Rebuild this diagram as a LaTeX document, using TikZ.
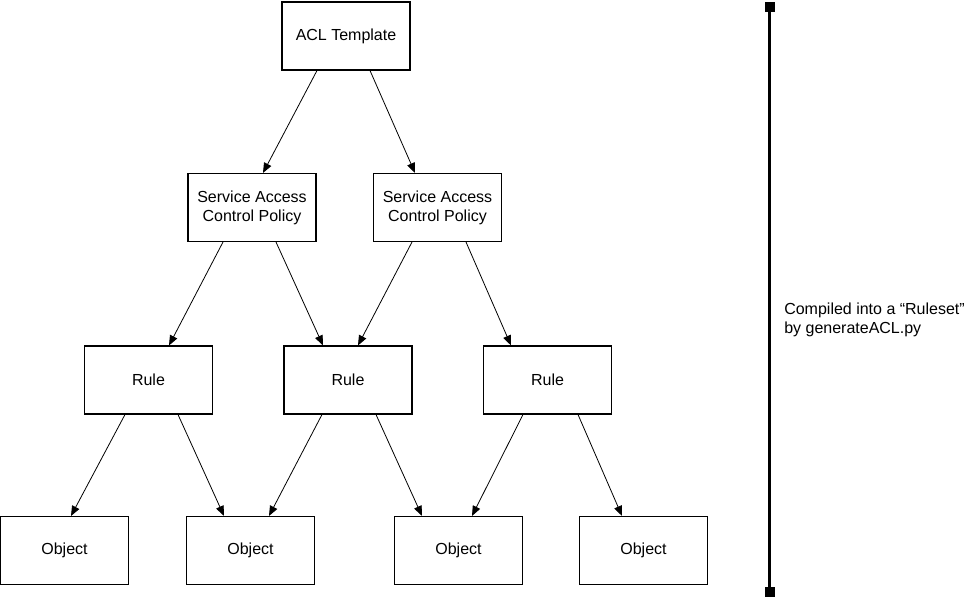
\documentclass[tikz,border=0pt]{standalone}
\usepackage{fontspec}
\setmainfont{Liberation Sans}
\usepackage{tikz}
\usetikzlibrary{arrows.meta, calc, positioning}

\begin{document}
\begin{tikzpicture}[x=0.75pt, y=-0.75pt,
	box/.style={draw, line width=0.8pt, minimum width=96pt, minimum height=51pt, inner sep=0pt, align=center,
		font=\fontsize{12pt}{14.2pt}\selectfont},
	link/.style={draw, line width=0.6pt, -{Triangle[length=7.5pt, width=6pt]}}]

\useasboundingbox (0,0) rectangle (970,598);

\node [box] (acl) at (346,36) {ACL Template};

\node [box] (sacp1) at (252,207.5) {Service Access \\ Control Policy};
\node [box] (sacp2) at (437.5,207.5) {Service Access \\ Control Policy};

\node [box] (rule1) at (148.5,380) {Rule};
\node [box] (rule2) at (348,380) {Rule};
\node [box] (rule3) at (547.5,380) {Rule};

\node [box] (obj1) at (64.5,550.5) {Object};
\node [box] (obj2) at (250.5,550.5) {Object};
\node [box] (obj3) at (458.5,550.5) {Object};
\node [box] (obj4) at (643.5,550.5) {Object};

\path [link] ($(acl.south)+(-29,0)$) -- ($(sacp1.north)+(11,0)$);
\path [link] ($(acl.south)+(24,0)$) -- ($(sacp2.north)+(-22.5,0)$);

\path [link] ($(sacp1.south)+(-29,0)$) -- ($(rule1.north)+(20.5,0)$);
\path [link] ($(sacp1.south)+(24,0)$) -- ($(rule2.north)+(-25,0)$);
\path [link] ($(sacp2.south)+(-25.5,0)$) -- ($(rule2.north)+(10,0)$);
\path [link] ($(sacp2.south)+(28.5,0)$) -- ($(rule3.north)+(-36.5,0)$);

\path [link] ($(rule1.south)+(-23.5,0)$) -- ($(obj1.north)+(6.5,0)$);
\path [link] ($(rule1.south)+(29.5,0)$) -- ($(obj2.north)+(-26.5,0)$);
\path [link] ($(rule2.south)+(-26,0)$) -- ($(obj2.north)+(18.5,0)$);
\path [link] ($(rule2.south)+(28,0)$) -- ($(obj3.north)+(-36.5,0)$);
\path [link] ($(rule3.south)+(-24.5,0)$) -- ($(obj3.north)+(13.5,0)$);
\path [link] ($(rule3.south)+(30.5,0)$) -- ($(obj4.north)+(-21.5,0)$);

% ruleset bracket
\coordinate (top) at (769.5,2);
\coordinate (bottom) at (769.5,597);
\draw [line width=2.8pt, {Square[length=7.5pt, width=7.5pt]}-{Square[length=7.5pt, width=7.5pt]}] (top) -- (bottom);

\node [anchor=west, align=left, inner sep=0pt, font=\fontsize{12pt}{14.2pt}\selectfont] (note) at (784,320)
	{Compiled into a “Ruleset” \\ by generateACL.py};

\end{tikzpicture}
\end{document}
